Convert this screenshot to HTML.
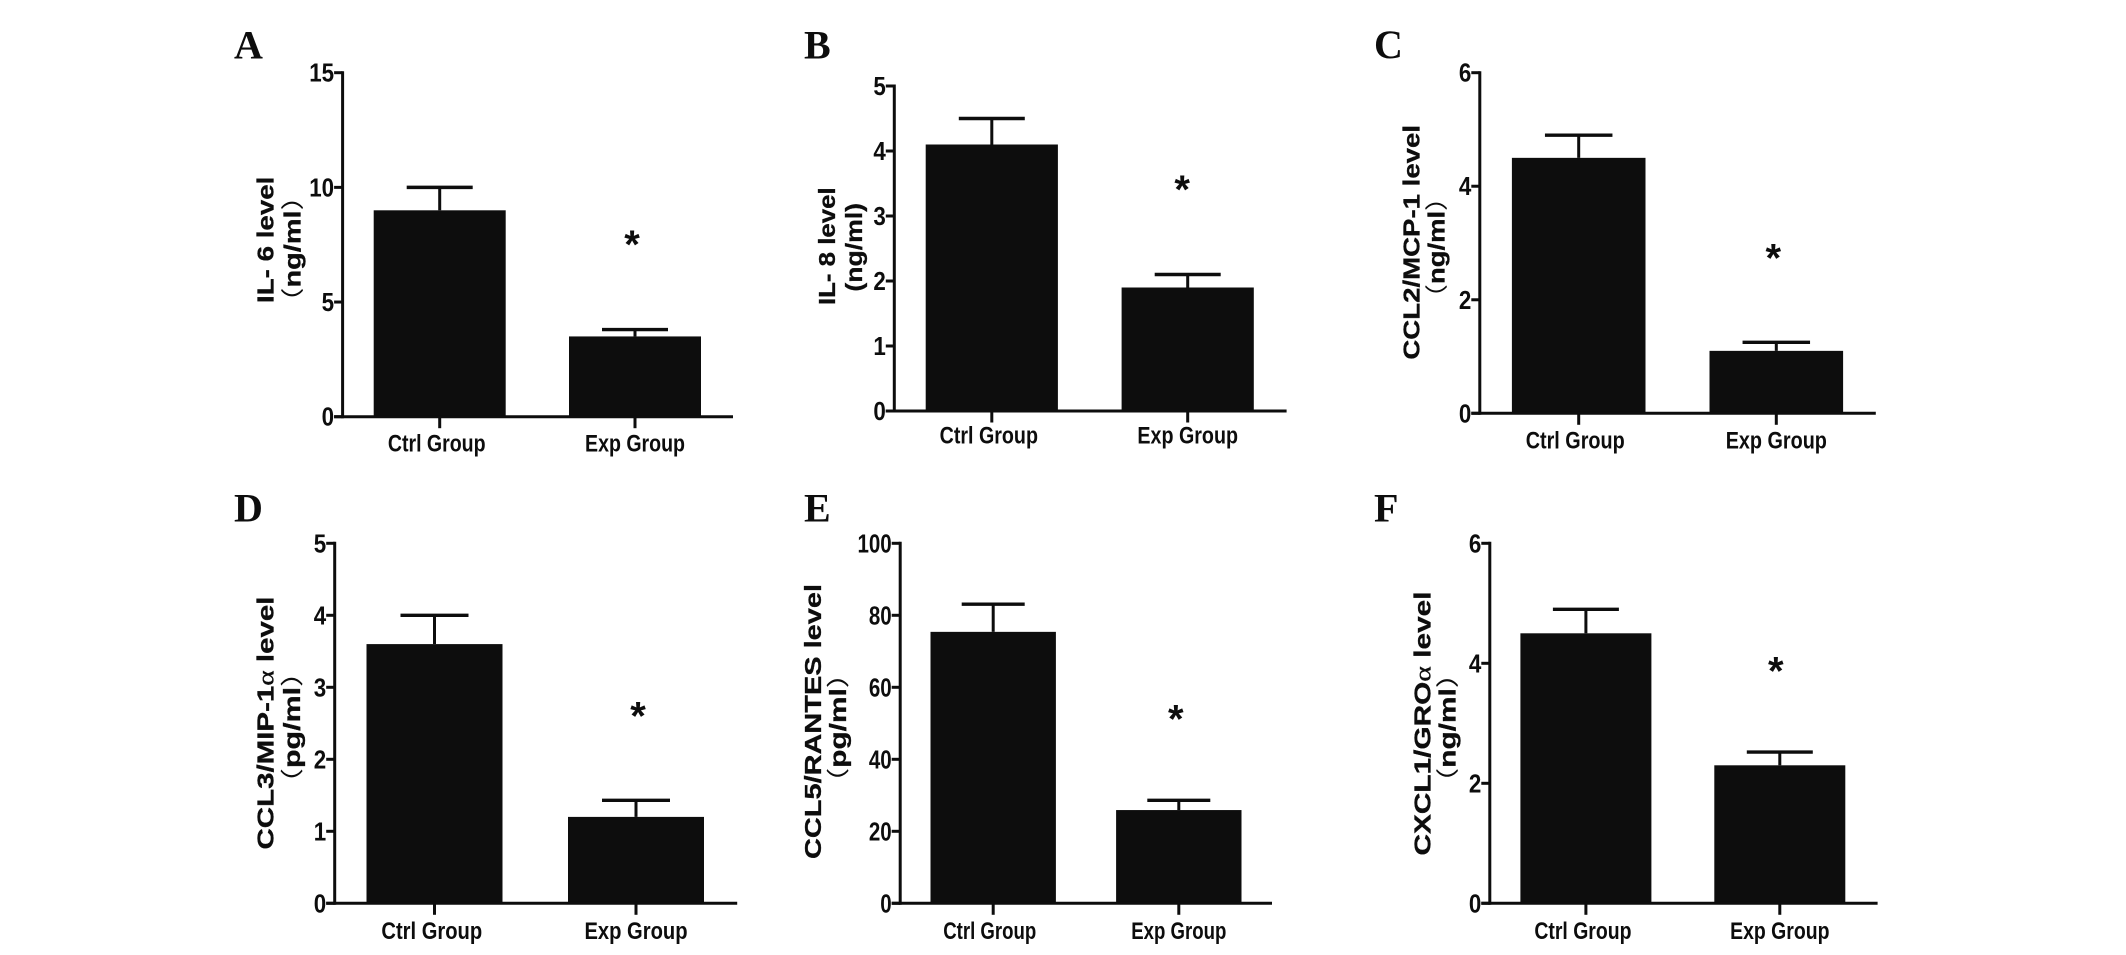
<!DOCTYPE html>
<html lang="en">
<head>
<meta charset="utf-8">
<title>Cytokine and chemokine levels in control and experimental groups</title>
<style>
html,body{margin:0;padding:0;background:#fff;width:2126px;height:955px;overflow:hidden}
svg{display:block}
text{fill:#0d0d0d}
</style>
</head>
<body>
<svg id="figure" xmlns="http://www.w3.org/2000/svg" width="2126" height="955" viewBox="0 0 2126 955"></svg>
<script>
const categories = ['Ctrl Group', 'Exp Group'];
const panelLetters = ['A', 'B', 'C', 'D', 'E', 'F'];
const yTitles = ['IL- 6 level', 'IL- 8 level', 'CCL2/MCP-1 level', 'CCL3/MIP-1α level', 'CCL5/RANTES level', 'CXCL1/GROα level'];
const yUnits = ['ng/ml', 'ng/ml', 'ng/ml', 'pg/ml', 'pg/ml', 'ng/ml'];
const yMaxima = [15, 5, 6, 5, 100, 6];
const yTickLabels = [
  [0, 5, 10, 15],
  [0, 1, 2, 3, 4, 5],
  [0, 2, 4, 6],
  [0, 1, 2, 3, 4, 5],
  [0, 20, 40, 60, 80, 100],
  [0, 2, 4, 6]
];
const ctrlMeans = [9, 4.1, 4.5, 3.6, 75.4, 4.5];
const ctrlUpper = [10, 4.5, 4.9, 4.0, 83.1, 4.9];
const expMeans = [3.5, 1.9, 1.1, 1.2, 25.9, 2.3];
const expUpper = [3.8, 2.1, 1.25, 1.43, 28.6, 2.52];
const starLevels = [7.67, 3.46, 2.8, 2.65, 52.1, 3.93];

/* Layout of each panel on the page (not data). */
const panelFrames = [
  {axisX:342.6,top:72.7,bottom:416.7,right:733,cat0:439.7,cat1:635,barW:132,capW:66,labelBase:451.7,ctrlDx:-3,labelFit:0.815,tickFit:0.86,starDx:-3,letterX:234,letterBase:58.5,t1X:273.4,t1Y:239.8,t1Len:126.3,t2X:300.5,t2Y:249,t2Len:135,paren:true},
  {axisX:894.3,top:86,bottom:411,right:1286.6,cat0:991.8,cat1:1187.7,barW:132.2,capW:66,labelBase:443.7,ctrlDx:-3,labelFit:0.82,tickFit:0.86,starDx:-5.5,letterX:804,letterBase:58.5,t1X:834.8,t1Y:246.2,t1Len:117.7,t2X:862,t2Y:247.3,t2Len:88.7,paren:false},
  {axisX:1479.8,top:72.7,bottom:413.3,right:1875.8,cat0:1578.7,cat1:1776.3,barW:133.6,capW:67.5,labelBase:448.3,ctrlDx:-3.5,labelFit:0.825,tickFit:0.86,starDx:-3,letterX:1374,letterBase:58,t1X:1419.6,t1Y:242.3,t1Len:234.7,t2X:1444.4,t2Y:247.5,t2Len:128,paren:true},
  {axisX:334.7,top:543.3,bottom:903.3,right:737.2,cat0:434.5,cat1:636,barW:136,capW:68,labelBase:939,ctrlDx:-2.7,labelFit:0.84,tickFit:0.86,starDx:2,letterX:234,letterBase:521.7,t1X:273.4,t1Y:723,t1Len:253,t2X:300,t2Y:727.5,t2Len:142,paren:true},
  {axisX:900.2,top:543.3,bottom:903.3,right:1272,cat0:993.2,cat1:1178.8,barW:125.4,capW:63,labelBase:939,ctrlDx:-3.5,labelFit:0.775,tickFit:0.79,starDx:-3,letterX:804,letterBase:521.7,t1X:821,t1Y:721.5,t1Len:275,t2X:845.8,t2Y:728,t2Len:139,paren:true},
  {axisX:1489.8,top:543.3,bottom:903.3,right:1877.6,cat0:1585.9,cat1:1779.8,barW:131,capW:66,labelBase:939,ctrlDx:-3,labelFit:0.81,tickFit:0.86,starDx:-4,letterX:1374,letterBase:521.7,t1X:1430.6,t1Y:723.5,t1Len:264,t2X:1455.7,t2Y:728,t2Len:139,paren:true}
];

const SVG_NS = 'http://www.w3.org/2000/svg';
const SANS = '"Liberation Sans","Noto Sans CJK SC",sans-serif';
const INK = '#0d0d0d';
const figure = document.getElementById('figure');

function make(tag, parent, props) {
  const node = document.createElementNS(SVG_NS, tag);
  for (const key in props) node.setAttribute(key, props[key]);
  parent.appendChild(node);
  return node;
}
function yScale(p, value) {
  const f = panelFrames[p];
  return f.bottom - (value / yMaxima[p]) * (f.bottom - f.top);
}
function xScale(p, c) {
  const f = panelFrames[p];
  return f.cat0 + c * (f.cat1 - f.cat0);
}
function rule(parent, x1, y1, x2, y2, width) {
  return make('line', parent, {x1: x1, y1: y1, x2: x2, y2: y2, stroke: INK, 'stroke-width': width});
}

panelLetters.forEach(function (letter, p) {
  const f = panelFrames[p];
  const low = letter.toLowerCase();
  const panel = make('g', figure, {});
  
  

  const letterText = make('text', panel, {x: f.letterX, y: f.letterBase, 'font-family': '"Liberation Serif",serif', 'font-weight': 'bold', 'font-size': 40});
  
  
  letterText.textContent = letter;

  /* bars and error bars */
  const means = [ctrlMeans[p], expMeans[p]];
  const uppers = [ctrlUpper[p], expUpper[p]];
  categories.forEach(function (cat, c) {
    const cx = xScale(p, c);
    const group = c === 0 ? 'ctrl' : 'exp';
    const bar = make('rect', panel, {x: cx - f.barW / 2, y: yScale(p, means[c]), width: f.barW, height: f.bottom - yScale(p, means[c]), fill: INK});
    
    

    const stem = rule(panel, cx, yScale(p, means[c]), cx, yScale(p, uppers[c]), 3);
    
    

    const cap = rule(panel, cx - f.capW / 2, yScale(p, uppers[c]), cx + f.capW / 2, yScale(p, uppers[c]), 3.4);
    
    

    const tick = rule(panel, cx, f.bottom, cx, f.bottom + 11.5, 3);
    
    

    const labelX = cx + (c === 0 ? f.ctrlDx : 0);
    const label = make('text', panel, {transform: 'translate(' + labelX + ',' + f.labelBase + ') scale(' + f.labelFit + ',1)', 'text-anchor': 'middle', 'font-family': SANS, 'font-weight': 'bold', 'font-size': 24});
    
    
    label.textContent = cat;
  });

  /* axes */
  const yAxis = rule(panel, f.axisX, f.top - 1.5, f.axisX, f.bottom + 1.5, 3);
  
  

  const xAxis = rule(panel, f.axisX - 8.5, f.bottom, f.right, f.bottom, 3);
  
  

  yTickLabels[p].forEach(function (value) {
    const ty = yScale(p, value);
    const yTick = rule(panel, f.axisX - 8.5, ty, f.axisX, ty, 3);
    
    

    const yLabel = make('text', panel, {transform: 'translate(' + (f.axisX - 8.5) + ',' + (ty + 9) + ') scale(' + f.tickFit + ',1)', 'text-anchor': 'end', 'font-family': SANS, 'font-weight': 'bold', 'font-size': 26});
    
    
    yLabel.textContent = value;
  });

  /* significance star */
  const star = make('text', panel, {x: xScale(p, 1) + f.starDx, y: yScale(p, starLevels[p]) + 17, 'text-anchor': 'middle', 'font-family': SANS, 'font-weight': 'bold', 'font-size': 40});
  
  
  star.textContent = '*';

  /* y-axis title, line one */
  const title = make('text', panel, {transform: 'translate(' + f.t1X + ',' + f.t1Y + ') rotate(-90)', 'text-anchor': 'middle', 'font-family': SANS, 'font-weight': 'bold', 'font-size': 23, stroke: INK, 'stroke-width': 0.3, textLength: f.t1Len, lengthAdjust: 'spacingAndGlyphs'});
  
  
  const alphaAt = yTitles[p].indexOf('α');
  if (alphaAt >= 0) {
    const before = make('tspan', title, {});
    before.textContent = yTitles[p].slice(0, alphaAt);
    const alpha = make('tspan', title, {'font-family': '"Liberation Serif",serif', 'font-weight': 'normal'});
    alpha.textContent = 'α';
    const after = make('tspan', title, {});
    after.textContent = yTitles[p].slice(alphaAt + 1);
  } else {
    title.textContent = yTitles[p];
  }

  /* y-axis title, units line */
  const unit = make('text', panel, {transform: 'translate(' + f.t2X + ',' + f.t2Y + ') rotate(-90)', 'text-anchor': 'middle', 'font-family': SANS, 'font-weight': 'bold', 'font-size': 23, stroke: INK, 'stroke-width': 0.3, textLength: f.t2Len, lengthAdjust: 'spacingAndGlyphs'});
  
  
  if (f.paren) {
    const open = make('tspan', unit, {'font-weight': 'normal', 'stroke-width': 0});
    open.textContent = '（';
    const mid = make('tspan', unit, {});
    mid.textContent = yUnits[p];
    const close = make('tspan', unit, {'font-weight': 'normal', 'stroke-width': 0});
    close.textContent = '）';
  } else {
    unit.textContent = '(' + yUnits[p] + ')';
  }
});
</script>
</body>
</html>
